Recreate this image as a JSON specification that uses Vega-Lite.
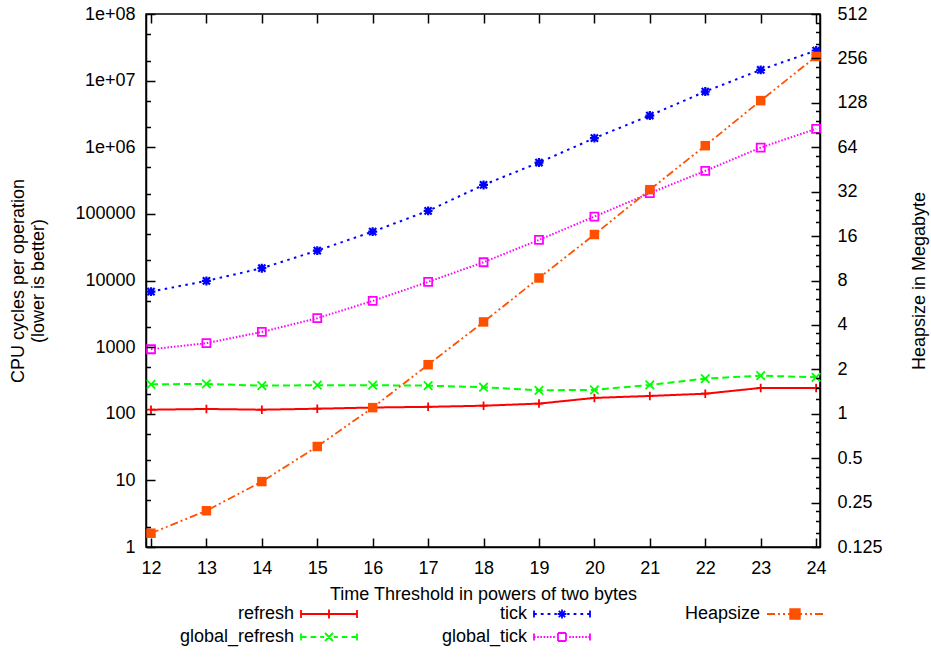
{
  "$schema": "https://vega.github.io/schema/vega-lite/v6.json",
  "width": 674,
  "height": 533,
  "autosize": {"type": "none"},
  "padding": {"left": 146, "top": 14, "right": 111, "bottom": 114},
  "background": "white",
  "config": {
    "font": "Liberation Sans",
    "view": {"stroke": "black", "strokeWidth": 1.5},
    "axis": {
      "domainColor": "black", "domainWidth": 1.5,
      "tickColor": "black", "tickWidth": 1.5, "tickOpacity": 1,
      "labelColor": "black", "labelFontSize": 18, "labelFont": "Liberation Sans",
      "titleColor": "black", "titleFontSize": 18, "titleFontWeight": "normal", "titleFont": "Liberation Sans",
      "grid": false, "labelFlush": false, "labelOverlap": false
    },
    "legend": {"labelFont": "Liberation Sans", "labelColor": "black"}
  },
  "datasets": {
    "cycles": [
      {"t": 12, "series": "refresh", "cycles": 115},
      {"t": 13, "series": "refresh", "cycles": 118},
      {"t": 14, "series": "refresh", "cycles": 115},
      {"t": 15, "series": "refresh", "cycles": 119},
      {"t": 16, "series": "refresh", "cycles": 124},
      {"t": 17, "series": "refresh", "cycles": 127},
      {"t": 18, "series": "refresh", "cycles": 132},
      {"t": 19, "series": "refresh", "cycles": 142},
      {"t": 20, "series": "refresh", "cycles": 173},
      {"t": 21, "series": "refresh", "cycles": 185},
      {"t": 22, "series": "refresh", "cycles": 200},
      {"t": 23, "series": "refresh", "cycles": 244},
      {"t": 24, "series": "refresh", "cycles": 244},
      {"t": 12, "series": "global_refresh", "cycles": 277},
      {"t": 13, "series": "global_refresh", "cycles": 280},
      {"t": 14, "series": "global_refresh", "cycles": 264},
      {"t": 15, "series": "global_refresh", "cycles": 268},
      {"t": 16, "series": "global_refresh", "cycles": 268},
      {"t": 17, "series": "global_refresh", "cycles": 264},
      {"t": 18, "series": "global_refresh", "cycles": 250},
      {"t": 19, "series": "global_refresh", "cycles": 225},
      {"t": 20, "series": "global_refresh", "cycles": 228},
      {"t": 21, "series": "global_refresh", "cycles": 271},
      {"t": 22, "series": "global_refresh", "cycles": 337},
      {"t": 23, "series": "global_refresh", "cycles": 373},
      {"t": 24, "series": "global_refresh", "cycles": 353},
      {"t": 12, "series": "tick", "cycles": 6810},
      {"t": 13, "series": "tick", "cycles": 9860},
      {"t": 14, "series": "tick", "cycles": 15300},
      {"t": 15, "series": "tick", "cycles": 28100},
      {"t": 16, "series": "tick", "cycles": 54200},
      {"t": 17, "series": "tick", "cycles": 111000},
      {"t": 18, "series": "tick", "cycles": 272000},
      {"t": 19, "series": "tick", "cycles": 589000},
      {"t": 20, "series": "tick", "cycles": 1370000},
      {"t": 21, "series": "tick", "cycles": 2990000},
      {"t": 22, "series": "tick", "cycles": 6860000},
      {"t": 23, "series": "tick", "cycles": 14500000},
      {"t": 24, "series": "tick", "cycles": 28300000},
      {"t": 12, "series": "global_tick", "cycles": 929},
      {"t": 13, "series": "global_tick", "cycles": 1145},
      {"t": 14, "series": "global_tick", "cycles": 1691},
      {"t": 15, "series": "global_tick", "cycles": 2716},
      {"t": 16, "series": "global_tick", "cycles": 4940},
      {"t": 17, "series": "global_tick", "cycles": 9530},
      {"t": 18, "series": "global_tick", "cycles": 18800},
      {"t": 19, "series": "global_tick", "cycles": 40700},
      {"t": 20, "series": "global_tick", "cycles": 91100},
      {"t": 21, "series": "global_tick", "cycles": 205000},
      {"t": 22, "series": "global_tick", "cycles": 442000},
      {"t": 23, "series": "global_tick", "cycles": 989000},
      {"t": 24, "series": "global_tick", "cycles": 1890000}
    ],
    "heap": [
      {"t": 12, "mb": 0.155},
      {"t": 13, "mb": 0.22},
      {"t": 14, "mb": 0.347},
      {"t": 15, "mb": 0.6},
      {"t": 16, "mb": 1.1},
      {"t": 17, "mb": 2.15},
      {"t": 18, "mb": 4.19},
      {"t": 19, "mb": 8.32},
      {"t": 20, "mb": 16.4},
      {"t": 21, "mb": 33.0},
      {"t": 22, "mb": 65.6},
      {"t": 23, "mb": 132.5},
      {"t": 24, "mb": 264}
    ],
    "keys": [
      {"series": "refresh"},
      {"series": "global_refresh"},
      {"series": "tick"},
      {"series": "global_tick"},
      {"series": "Heapsize"}
    ]
  },
  "layer": [
    {
      "data": {"name": "cycles"},
      "mark": {"type": "line"},
      "encoding": {
        "x": {
          "field": "t", "type": "quantitative",
          "scale": {"domain": [11.91, 24.07], "nice": false, "zero": false},
          "axis": {
            "orient": "bottom",
            "values": [12, 13, 14, 15, 16, 17, 18, 19, 20, 21, 22, 23, 24],
            "ticks": false, "tickSize": 0, "labelPadding": 12,
            "title": "Time Threshold in powers of two bytes", "titlePadding": 8
          }
        },
        "y": {
          "field": "cycles", "type": "quantitative",
          "scale": {"type": "log", "domain": [1, 100000000], "nice": false},
          "axis": {
            "orient": "left",
            "values": [1, 10, 100, 1000, 10000, 100000, 1000000, 10000000, 100000000],
            "labelExpr": "datum.value >= 1000000 ? '1e+0' + round(log(datum.value)/LN10) : format(datum.value, 'd')",
            "ticks": false, "tickSize": 0,
            "labelPadding": 11,
            "title": ["CPU cycles per operation", "(lower is better)"],
            "titlePadding": 27
          }
        },
        "color": {
          "field": "series", "type": "nominal",
          "scale": {"domain": ["refresh", "global_refresh", "tick", "global_tick"], "range": ["#ff0000", "#00ff00", "#0000ff", "#ff00ff"]},
          "legend": null
        },
        "strokeDash": {
          "field": "series", "type": "nominal",
          "scale": {"domain": ["refresh", "global_refresh", "tick", "global_tick"], "range": [[1, 0], [7, 4], [2.5, 4.5], [1.5, 1.8]]},
          "legend": null
        },
        "strokeWidth": {
          "field": "series", "type": "nominal",
          "scale": {"domain": ["refresh", "global_refresh", "tick", "global_tick"], "range": [2, 2, 2.5, 1.5]},
          "legend": null
        }
      }
    },
    {
      "data": {"name": "cycles"},
      "transform": [{"filter": "datum.series == 'refresh'"}],
      "mark": {"type": "point", "filled": false, "size": 72, "strokeWidth": 1.8, "opacity": 1, "color": "#ff0000", "shape": "M-1,0H1M0,-1V1"},
      "encoding": {
        "x": {
          "field": "t", "type": "quantitative",
          "scale": {"domain": [11.91, 24.07], "nice": false, "zero": false},
          "axis": {
            "orient": "top", "offset": -533, "labels": false, "domain": false, "title": null,
            "values": [12, 13, 14, 15, 16, 17, 18, 19, 20, 21, 22, 23, 24],
            "ticks": true, "tickSize": 9, "tickColor": "black", "zindex": 2
          }
        },
        "y": {
          "field": "cycles", "type": "quantitative",
          "scale": {"type": "log", "domain": [1, 100000000], "nice": false},
          "axis": {
            "orient": "right", "offset": -674, "labels": false, "domain": false, "title": null,
            "values": [1, 2, 5, 10, 20, 50, 100, 200, 500, 1000, 2000, 5000, 10000, 20000, 50000, 100000, 200000, 500000, 1000000, 2000000, 5000000, 10000000, 20000000, 50000000, 100000000],
            "ticks": true, "tickSize": 9, "tickColor": "black", "zindex": 2,
            "tickDash": {"condition": {"test": "abs(log(datum.value)/LN10 - round(log(datum.value)/LN10)) > 0.001", "value": [4.5, 30]}, "value": [30, 0]}
          }
        }
      }
    },
    {
      "data": {"name": "cycles"},
      "transform": [{"filter": "datum.series == 'global_refresh'"}],
      "mark": {"type": "point", "filled": false, "size": 72, "strokeWidth": 1.8, "opacity": 1, "color": "#00ff00", "shape": "M-1,-1L1,1M-1,1L1,-1"},
      "encoding": {
        "x": {
          "field": "t", "type": "quantitative",
          "scale": {"domain": [11.91, 24.07], "nice": false, "zero": false},
          "axis": {
            "orient": "bottom", "offset": -533, "labels": false, "domain": false, "title": null,
            "values": [12, 13, 14, 15, 16, 17, 18, 19, 20, 21, 22, 23, 24],
            "ticks": true, "tickSize": 9, "tickColor": "black", "zindex": 2
          }
        },
        "y": {"field": "cycles", "type": "quantitative", "scale": {"type": "log", "domain": [1, 100000000], "nice": false}, "axis": null}
      }
    },
    {
      "data": {"name": "cycles"},
      "transform": [{"filter": "datum.series == 'tick'"}],
      "mark": {"type": "point", "filled": false, "size": 80, "strokeWidth": 2.2, "opacity": 1, "color": "#0000ff", "shape": "M-1,0H1M0,-1V1M-0.8,-0.8L0.8,0.8M-0.8,0.8L0.8,-0.8"},
      "encoding": {
        "x": {"field": "t", "type": "quantitative", "scale": {"domain": [11.91, 24.07], "nice": false, "zero": false}, "axis": null},
        "y": {"field": "cycles", "type": "quantitative", "scale": {"type": "log", "domain": [1, 100000000], "nice": false}, "axis": null}
      }
    },
    {
      "data": {"name": "cycles"},
      "transform": [{"filter": "datum.series == 'global_tick'"}],
      "mark": {"type": "point", "filled": false, "size": 64, "strokeWidth": 1.8, "opacity": 1, "color": "#ff00ff", "shape": "square"},
      "encoding": {
        "x": {"field": "t", "type": "quantitative", "scale": {"domain": [11.91, 24.07], "nice": false, "zero": false}, "axis": null},
        "y": {"field": "cycles", "type": "quantitative", "scale": {"type": "log", "domain": [1, 100000000], "nice": false}, "axis": null}
      }
    },
    {
      "data": {"name": "heap"},
      "mark": {"type": "line", "color": "#ff5000", "strokeWidth": 1.8, "strokeDash": [8, 3, 2, 3, 2, 3]},
      "encoding": {
        "x": {"field": "t", "type": "quantitative", "scale": {"domain": [11.91, 24.07], "nice": false, "zero": false}, "axis": null},
        "y": {
          "field": "mb", "type": "quantitative",
          "scale": {"type": "log", "base": 2, "domain": [0.125, 512], "nice": false},
          "axis": {
            "orient": "right",
            "values": [0.125, 0.25, 0.5, 1, 2, 4, 8, 16, 32, 64, 128, 256, 512],
            "labelExpr": "'' + datum.value",
            "ticks": false, "tickSize": 0,
            "labelPadding": 17,
            "title": "Heapsize in Megabyte",
            "titleAngle": 270,
            "titlePadding": 46
          }
        }
      }
    },
    {
      "data": {"name": "heap"},
      "mark": {"type": "point", "shape": "square", "filled": true, "size": 90, "color": "#ff5000", "opacity": 1},
      "encoding": {
        "x": {"field": "t", "type": "quantitative", "scale": {"domain": [11.91, 24.07], "nice": false, "zero": false}, "axis": null},
        "y": {
          "field": "mb", "type": "quantitative",
          "scale": {"type": "log", "base": 2, "domain": [0.125, 512], "nice": false},
          "axis": {
            "orient": "left", "offset": -674, "labels": false, "domain": false, "title": null,
            "values": [0.125, 0.15625, 0.1875, 0.21875, 0.25, 0.3125, 0.375, 0.4375, 0.5, 0.625, 0.75, 0.875, 1, 1.25, 1.5, 1.75, 2, 2.5, 3, 3.5, 4, 5, 6, 7, 8, 10, 12, 14, 16, 20, 24, 28, 32, 40, 48, 56, 64, 80, 96, 112, 128, 160, 192, 224, 256, 320, 384, 448, 512],
            "ticks": true, "tickSize": 9, "tickColor": "black", "zindex": 2,
            "tickDash": {"condition": {"test": "abs(log(datum.value)/LN2 - round(log(datum.value)/LN2)) > 0.001", "value": [4.5, 30]}, "value": [30, 0]}
          }
        }
      }
    },
    {
      "data": {"name": "keys"},
      "mark": {"type": "point", "opacity": 0},
      "encoding": {
        "shape": {
          "field": "series", "type": "nominal",
          "scale": {
            "domain": ["refresh", "global_refresh", "tick", "global_tick", "Heapsize"],
            "range": [
              "M-7,0H7M-7,-1V1M7,-1V1M0,-1.1V1.1",
              "M-7,-0.9V0.9M7,-0.9V0.9M-7,0H-5.6M-4.6,0H-3.2M-2.2,0H-1.2M1.2,0H2.2M3.2,0H4.6M5.6,0H7M-1,-1L1,1M-1,1L1,-1",
              "M-7,-0.9V0.9M7,-0.9V0.9M-7,0H-6.3M-5.3,0H-4.6M-3.6,0H-2.9M-1.9,0H-1.3M1.3,0H1.9M2.9,0H3.6M4.6,0H5.3M6.3,0H7M-1.1,0H1.1M0,-1.1V1.1M-0.8,-0.8L0.8,0.8M-0.8,0.8L0.8,-0.8",
              "M-7,-0.9V0.9M7,-0.9V0.9M-7,0H-6.6M-6.2,0H-5.8M-5.4,0H-5M-4.6,0H-4.2M-3.8,0H-3.4M-3,0H-2.6M-2.2,0H-1.8M1.8,0H2.2M2.6,0H3M3.4,0H3.8M4.2,0H4.6M5,0H5.4M5.8,0H6.2M6.6,0H7M-1,-1H1M1,-1V1M1,1H-1M-1,1V-1",
              "M-7,0H-5M-4.25,0H-3.75M-3,0H-2.5M-1.75,0H-1.2M1.2,0H1.75M2.5,0H3M3.75,0H4.25M5,0H7M-1.2,-1.2H1.2V1.2H-1.2Z"
            ]
          },
          "legend": {
            "title": null, "orient": "none", "legendX": 174, "legendY": 591, "direction": "vertical",
            "columns": 3, "gridAlign": "all", "columnPadding": 80, "rowPadding": 5,
            "symbolSize": 64, "symbolStrokeWidth": 1.8, "symbolOpacity": 1,
            "labelFontSize": 18, "labelAlign": "right", "labelOffset": -44, "labelLimit": 400
          }
        },
        "stroke": {
          "field": "series", "type": "nominal",
          "scale": {"domain": ["refresh", "global_refresh", "tick", "global_tick", "Heapsize"], "range": ["#ff0000", "#00ff00", "#0000ff", "#ff00ff", "#ff5000"]},
          "legend": {
            "title": null, "orient": "none", "legendX": 174, "legendY": 591, "direction": "vertical",
            "columns": 3, "gridAlign": "all", "columnPadding": 80, "rowPadding": 5,
            "symbolSize": 64, "symbolStrokeWidth": 1.8, "symbolOpacity": 1,
            "labelFontSize": 18, "labelAlign": "right", "labelOffset": -44, "labelLimit": 400
          }
        },
        "fill": {
          "field": "series", "type": "nominal",
          "scale": {"domain": ["refresh", "global_refresh", "tick", "global_tick", "Heapsize"], "range": ["transparent", "transparent", "transparent", "transparent", "#ff5000"]},
          "legend": {
            "title": null, "orient": "none", "legendX": 174, "legendY": 591, "direction": "vertical",
            "columns": 3, "gridAlign": "all", "columnPadding": 80, "rowPadding": 5,
            "symbolSize": 64, "symbolStrokeWidth": 1.8, "symbolOpacity": 1,
            "labelFontSize": 18, "labelAlign": "right", "labelOffset": -44, "labelLimit": 400
          }
        }
      }
    }
  ],
  "resolve": {"scale": {"y": "independent"}, "axis": {"x": "independent"}}
}
